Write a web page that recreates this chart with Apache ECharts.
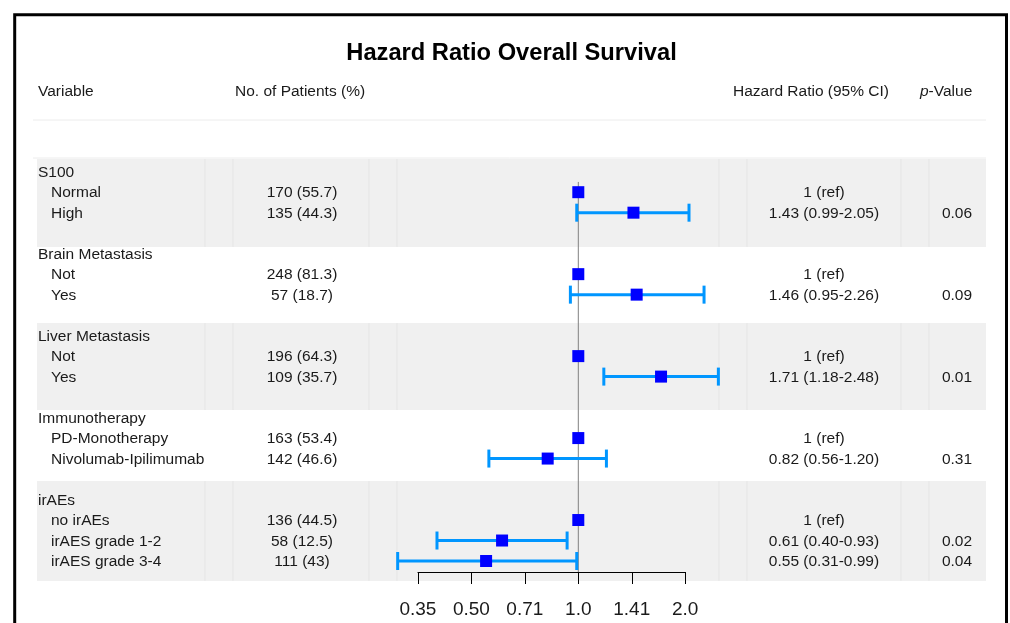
<!DOCTYPE html>
<html>
<head>
<meta charset="utf-8">
<script src="https://cdn.jsdelivr.net/npm/echarts@6/dist/echarts.min.js"></script>
<style>
html,body{margin:0;padding:0;background:#fff;}
#chart{width:1010px;height:623px;}
</style>
</head>
<body>
<div id="chart"></div>
<script>
// ---------------- DATA ----------------
const rowLabels = ['S100','Normal','High','',
  'Brain Metastasis','Not','Yes','',
  'Liver Metastasis','Not','Yes','',
  'Immunotherapy','PD-Monotherapy','Nivolumab-Ipilimumab','',
  'irAEs','no irAEs','irAES grade 1-2','irAES grade 3-4'];
const isGroupHeader = [1,0,0,0, 1,0,0,0, 1,0,0,0, 1,0,0,0, 1,0,0,0];
const patients = ['','170 (55.7)','135 (44.3)','',
  '','248 (81.3)','57 (18.7)','',
  '','196 (64.3)','109 (35.7)','',
  '','163 (53.4)','142 (46.6)','',
  '','136 (44.5)','58 (12.5)','111 (43)'];
const hr = [null,1,1.43,null, null,1,1.46,null, null,1,1.71,null, null,1,0.82,null, null,1,0.61,0.55];
const ciLow = [null,null,0.99,null, null,null,0.95,null, null,null,1.18,null, null,null,0.56,null, null,null,0.40,0.31];
const ciHigh = [null,null,2.05,null, null,null,2.26,null, null,null,2.48,null, null,null,1.20,null, null,null,0.93,0.99];
const hrText = ['','1 (ref)','1.43 (0.99-2.05)','',
  '','1 (ref)','1.46 (0.95-2.26)','',
  '','1 (ref)','1.71 (1.18-2.48)','',
  '','1 (ref)','0.82 (0.56-1.20)','',
  '','1 (ref)','0.61 (0.40-0.93)','0.55 (0.31-0.99)'];
const pValues = ['','','0.06','', '','','0.09','', '','','0.01','', '','','0.31','', '','','0.02','0.04'];
const tickLabels = ['0.35','0.50','0.71','1.0','1.41','2.0'];
const titleText = 'Hazard Ratio Overall Survival';
const headers = ['Variable','No. of Patients (%)','Hazard Ratio (95% CI)','-Value'];

// ---------------- LAYOUT ----------------
const FONT = "'Liberation Sans', Arial, Helvetica, sans-serif";
const W = 1010, H = 623;
const Y0 = 171.7, DY = 20.49;           // pixel of row 0, row pitch
const TEXT_DY = 1;                      // small vertical nudge for table text
const YMIN = -3, YMAX0 = 20.5;
const AXIS_Y = 572;
const YMAX1 = (AXIS_Y - Y0) / DY;
const REF_X = 578.3, UNIT = 106.9;      // pixel of HR=1, pixels per log2 unit
const XMIN = -1.5, XMAX = 1;
const bands = [[-0.62, 3.67], [7.39, 11.63], [15.10, 19.97]];
const colLines = [205, 233, 369, 397, 719, 747, 901, 929];
const COL = {group: 38, sub: 51, n: 302, hr: 824, p: 957, bandL: 37, bandR: 986};
const rows = rowLabels.map((_, i) => i);

const gridTop = Y0 + YMIN * DY;
const chart = echarts.init(document.getElementById('chart'), null, {renderer: 'canvas'});

const option = {
  animation: false,
  backgroundColor: '#fff',
  grid: [
    {left: 0, width: W, top: gridTop, height: (YMAX0 - YMIN) * DY},
    {left: REF_X + XMIN * UNIT, width: (XMAX - XMIN) * UNIT, top: gridTop, height: (YMAX1 - YMIN) * DY}
  ],
  xAxis: [
    {gridIndex: 0, type: 'value', min: 0, max: W, show: false},
    {gridIndex: 1, type: 'value', min: XMIN, max: XMAX, interval: 0.5, position: 'bottom', z: 20,
      axisLine: {show: true, onZero: false, lineStyle: {color: '#000', width: 1}},
      axisTick: {show: true, length: 12, lineStyle: {color: '#000', width: 1}},
      splitLine: {show: false},
      axisLabel: {fontFamily: FONT, fontSize: 19, color: '#1a1a1a', margin: 28,
        formatter: v => tickLabels[Math.round((v - XMIN) / 0.5)] || ''}}
  ],
  yAxis: [
    {gridIndex: 0, type: 'value', min: YMIN, max: YMAX0, inverse: true, show: false},
    {gridIndex: 1, type: 'value', min: YMIN, max: YMAX1, inverse: true, show: false}
  ],
  graphic: [
    {type: 'rect', shape: {x: 14.7, y: 14.7, width: 991.8, height: 800}, style: {fill: 'none', stroke: '#000', lineWidth: 3}, z: 100},
    {type: 'text', x: 511.5, y: 53.5, style: {text: titleText, font: 'bold 23.7px ' + FONT, fill: '#000', textAlign: 'center', textVerticalAlign: 'middle'}},
    {type: 'text', x: 38, y: 92, style: {text: headers[0], font: '15.5px ' + FONT, fill: '#1a1a1a', textAlign: 'left', textVerticalAlign: 'middle'}},
    {type: 'text', x: 235, y: 92, style: {text: headers[1], font: '15.5px ' + FONT, fill: '#1a1a1a', textAlign: 'left', textVerticalAlign: 'middle'}},
    {type: 'text', x: 811, y: 92, style: {text: headers[2], font: '15.5px ' + FONT, fill: '#1a1a1a', textAlign: 'center', textVerticalAlign: 'middle'}},
    {type: 'text', x: 920, y: 92, style: {
      text: '{i|p}' + headers[3], textAlign: 'left', textVerticalAlign: 'middle',
      font: '15.5px ' + FONT, fill: '#1a1a1a',
      rich: {i: {fontStyle: 'italic', fontFamily: FONT, fontSize: 15.5, fill: '#1a1a1a'}}}},
    {type: 'line', shape: {x1: 33, y1: 120, x2: 986, y2: 120}, style: {stroke: '#ececec', lineWidth: 1}},
    {type: 'line', shape: {x1: 33, y1: 158, x2: 986, y2: 158}, style: {stroke: '#ececec', lineWidth: 1}}
  ],
  series: [
    { // shaded group bands
      type: 'custom', xAxisIndex: 0, yAxisIndex: 0, z: 1, silent: true,
      data: bands,
      renderItem: (params, api) => {
        const p0 = api.coord([COL.bandL, api.value(0)]);
        const p1 = api.coord([COL.bandR, api.value(1)]);
        const children = [{type: 'rect', shape: {x: p0[0], y: p0[1], width: p1[0] - p0[0], height: p1[1] - p0[1]}, style: {fill: '#f0f0f0'}}];
        colLines.forEach(cx => {
          const x = api.coord([cx, 0])[0];
          children.push({type: 'line', shape: {x1: x, y1: p0[1], x2: x, y2: p1[1]}, style: {stroke: '#e5e5e5', lineWidth: 1}});
        });
        return {type: 'group', children};
      }
    },
    { // table text
      type: 'custom', xAxisIndex: 0, yAxisIndex: 0, z: 5, silent: true,
      data: rows,
      renderItem: (params, api) => {
        const r = api.value(0);
        const y = api.coord([0, r])[1] + TEXT_DY;
        const tx = (col, str, align) => ({type: 'text', x: api.coord([col, r])[0], y,
          style: {text: str, font: '15.5px ' + FONT, fill: '#1a1a1a', textAlign: align, textVerticalAlign: 'middle'}});
        return {type: 'group', children: [
          tx(isGroupHeader[r] ? COL.group : COL.sub, rowLabels[r], 'left'),
          tx(COL.n, patients[r], 'center'),
          tx(COL.hr, hrText[r], 'center'),
          tx(COL.p, pValues[r], 'center')
        ]};
      }
    },
    { // reference line at HR = 1
      type: 'line', xAxisIndex: 1, yAxisIndex: 1, z: 3, silent: true, symbol: 'none',
      data: [[Math.log2(1), 0.5], [Math.log2(1), YMAX1]],
      lineStyle: {color: '#808080', width: 1}
    },
    { // confidence intervals
      type: 'custom', xAxisIndex: 1, yAxisIndex: 1, z: 6, clip: false, silent: true,
      data: rows.filter(r => ciLow[r] != null).map(r => [Math.log2(ciLow[r]), Math.log2(ciHigh[r]), r]),
      renderItem: (params, api) => {
        const a = api.coord([api.value(0), api.value(2)]);
        const b = api.coord([api.value(1), api.value(2)]);
        const st = {stroke: '#0096ff', lineWidth: 3};
        return {type: 'group', children: [
          {type: 'line', shape: {x1: a[0], y1: a[1], x2: b[0], y2: b[1]}, style: st},
          {type: 'line', shape: {x1: a[0], y1: a[1] - 9, x2: a[0], y2: a[1] + 9}, style: st},
          {type: 'line', shape: {x1: b[0], y1: b[1] - 9, x2: b[0], y2: b[1] + 9}, style: st}
        ]};
      }
    },
    { // point estimates
      type: 'scatter', xAxisIndex: 1, yAxisIndex: 1, z: 8, clip: false, silent: true,
      symbol: 'rect', symbolSize: 12,
      itemStyle: {color: '#0000ff', opacity: 1},
      data: rows.filter(r => hr[r] != null).map(r => [Math.log2(hr[r]), r])
    }
  ]
};
chart.setOption(option);
</script>
</body>
</html>
